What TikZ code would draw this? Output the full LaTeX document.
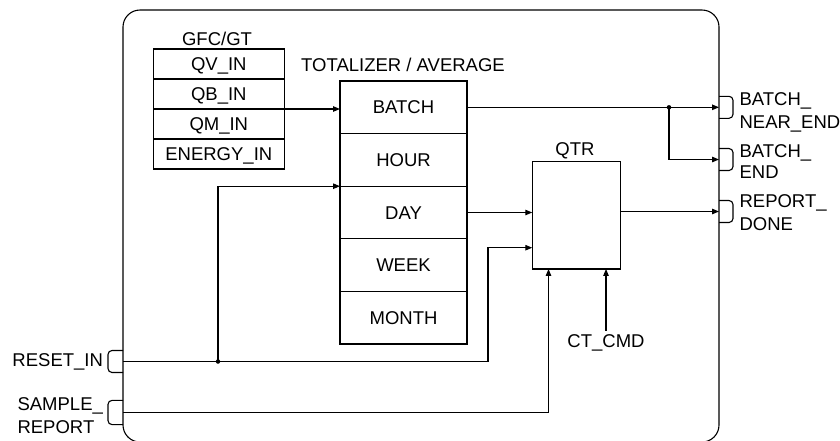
\documentclass[tikz,border=0pt]{standalone}
\usepackage{fontspec}
\setmainfont{Liberation Sans}
\usetikzlibrary{arrows.meta,positioning}

\begin{document}
\begin{tikzpicture}[x=1pt, y=-1pt, line width=1.1pt,
  font=\fontsize{18.5}{23}\selectfont,
  gfcrow/.style={rectangle, draw, minimum width=131pt, minimum height=30pt, inner sep=0pt, outer sep=0pt, text height=13pt, text depth=0pt},
  totrow/.style={rectangle, draw, minimum width=127pt, minimum height=52.6pt, inner sep=0pt, outer sep=0pt, text height=13pt, text depth=0pt},
  sig/.style={-{Triangle[length=7pt,width=5.5pt]}},
  dot/.style={circle, fill, inner sep=0pt, minimum size=4.5pt},
  lbl/.style={inner sep=0pt, align=left},
  portr/.pic={\draw[rounded corners=4pt] (0,-11) -- (14,-11) -- (14,11) -- (0,11);},
  portl/.pic={\draw[rounded corners=4pt] (0,-11) -- (-15,-11) -- (-15,11) -- (0,11);}
]
  \useasboundingbox (0,0) rectangle (840,440);
  \clip (0,0) rectangle (840,440);
  % block frame
  \draw[rounded corners=17pt] (123,10) rectangle (719,442);
  % GFC/GT inputs
  \node[anchor=base] (gfcl) at (217,45) {GFC/GT};
  \node[gfcrow] (qv) at (218.8,64) {QV\_IN};
  \node[gfcrow, below=0pt of qv] (qb) {QB\_IN};
  \node[gfcrow, below=0pt of qb] (qm) {QM\_IN};
  \node[gfcrow, below=0pt of qm] (en) {ENERGY\_IN};
  % totalizer
  \node[anchor=base] (totl) at (403,71.7) {TOTALIZER / AVERAGE};
  \node[totrow] (batch) at (403.5,107.3) {BATCH};
  \node[totrow, below=0pt of batch] (hour) {HOUR};
  \node[totrow, below=0pt of hour] (day) {DAY};
  \node[totrow, below=0pt of day] (week) {WEEK};
  \node[totrow, below=0pt of week] (month) {MONTH};
  % QTR
  \node[anchor=base] (qtrl) at (575,155.7) {QTR};
  \node[draw, minimum width=88.5pt, minimum height=107.3pt, outer sep=0pt] (qtr) at (576.5,215.3) {};
  \node[anchor=base] (ctcmd) at (606,347.7) {CT\_CMD};
  % ports
  \coordinate (bne) at (719,107.3);
  \coordinate (be) at (719,159.5);
  \coordinate (rd) at (719,211.5);
  \coordinate (rst) at (123,361.5);
  \coordinate (smp) at (123,412.5);
  \pic at (bne) {portr};
  \pic at (be) {portr};
  \pic at (rd) {portr};
  \pic at (rst) {portl};
  \pic[yscale=1.1] at (smp) {portl};
  \node[lbl, anchor=north west] (bnel) at (739,92.5) {BATCH\_\\NEAR\_END};
  \node[lbl, anchor=north west] (bel) at (739,144.5) {BATCH\_\\[-2pt]END};
  \node[lbl, anchor=north west] (rdl) at (739,194.5) {REPORT\_\\DONE};
  \node[anchor=base east, inner sep=0pt] (rstl) at (103.5,366.7) {RESET\_IN};
  \node[lbl, anchor=north west] (smpl) at (17,397) {SAMPLE\_\\REPORT};
  % signals
  \draw[sig] (qb.south east) -- (qb.south east -| batch.west);
  \draw[sig] (batch.east) -- (bne);
  \node[dot] (j1) at (669,107.3) {};
  \draw[sig] (j1.center) |- (be);
  \draw[sig] (day.east) -- (day.east -| qtr.west);
  \draw[sig] (qtr.east |- rd) -- (rd);
  \draw[sig] (rst) -- ++(365,0) |- ([yshift=-32.4pt]qtr.west);
  \node[dot] (j2) at (218,361.5) {};
  \draw[sig] (j2.center) |- (hour.south west);
  \draw[sig] (smp) -| ([xshift=-28pt]qtr.south);
  \draw[sig] (ctcmd.north) -- (ctcmd.north |- qtr.south);
\end{tikzpicture}
\end{document}
